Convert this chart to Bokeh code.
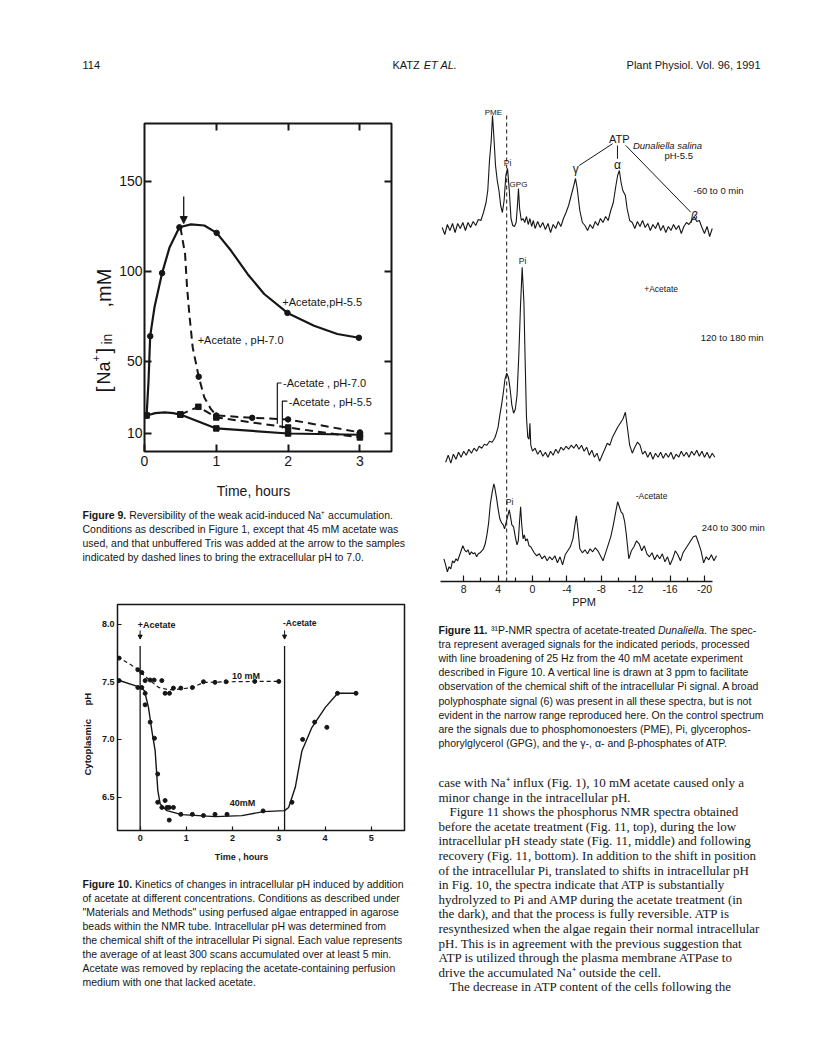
import numpy as np
from bokeh.plotting import figure
from bokeh.models import Range1d, LinearAxis, FixedTicker, Arrow, NormalHead, PrintfTickFormatter
from bokeh.layouts import column, row
from bokeh.embed import file_html
from bokeh.resources import INLINE
from bokeh.core.properties import value

INK = "#161616"
SANS = "Liberation Sans"
SERIF = "Liberation Serif"

# ====================== Figure 9 data ======================
F9_X_TICKS = [0, 1, 2, 3]
F9_Y_TICKS = [10, 50, 100, 150]
F9_AC55_T = [0.03, 0.08, 0.245, 0.486, 1.005, 1.991, 2.986]
F9_AC55_NA = [20, 64, 99, 124.4, 121.3, 76.9, 63.1]
F9_AC55_CURVE_T = [0.03, 0.056, 0.079, 0.139, 0.245, 0.347, 0.486, 0.648, 0.833, 1.005,
                   1.204, 1.435, 1.667, 1.991, 2.361, 2.685, 2.986]
F9_AC55_CURVE_NA = [20.5, 39, 64, 80, 99, 113, 124.4, 126, 125.4, 121.3,
                    111.5, 98.5, 87.4, 76.9, 69.8, 65.2, 63.1]
# +Acetate, pH 7.0 (Tris added at the arrow)
F9_AC70_T = [0.755, 1.0, 1.5, 2.0, 3.0]
F9_AC70_NA = [41.5, 20.0, 18.7, 17.8, 10.6]
F9_AC70_CURVE_T = [0.5, 0.565, 0.593, 0.625, 0.671, 0.755, 0.833, 0.926, 1.0, 1.5, 2.0, 3.0]
F9_AC70_CURVE_NA = [124.4, 109.6, 91, 76, 57.8, 41.5, 30, 23.5, 20.0, 18.7, 17.8, 10.6]
# -Acetate, pH 7.0
F9_NO70_T = [0.5, 0.75, 1.0, 2.0, 3.0]
F9_NO70_NA = [20.5, 24.8, 18.9, 13.3, 7.8]
# -Acetate, pH 5.5
F9_NO55_T = [0.03, 0.5, 1.0, 2.0, 3.0]
F9_NO55_NA = [20, 20.5, 12.8, 10.0, 9.3]
F9_NO55_CURVE_T = [0.03, 0.15, 0.28, 0.4, 0.5, 1.0, 2.0, 3.0]
F9_NO55_CURVE_NA = [20, 21.3, 21.7, 21.3, 20.5, 12.8, 10.0, 9.3]
F9_ARROW_T = 0.546

# ====================== Figure 10 data ======================
F10_X_TICKS = [0, 1, 2, 3, 4, 5]
F10_Y_TICKS = [6.5, 7.0, 7.5, 8.0]
F10_ACETATE_ON = 0.0
F10_ACETATE_OFF = 3.125
F10_10MM_T = [-0.455, -0.05, 0.036, 0.108, 0.217, 0.303, 0.469, 0.54, 0.635, 0.72, 0.88,
              1.13, 1.37, 1.62, 1.86, 2.48, 3.0]
F10_10MM_PH = [7.705, 7.604, 7.58, 7.51, 7.515, 7.515, 7.51, 7.40, 7.40, 7.445, 7.445,
               7.45, 7.50, 7.495, 7.50, 7.503, 7.503]
F10_10MM_CURVE_T = [-0.484, -0.05, 0.007, 0.2, 0.397, 0.6, 0.72, 0.9, 1.12, 1.37, 1.62, 2.0, 2.48, 3.0]
F10_10MM_CURVE_PH = [7.717, 7.61, 7.583, 7.515, 7.451, 7.432, 7.43, 7.44, 7.447, 7.494, 7.497, 7.50, 7.503, 7.503]
F10_40MM_T = [-0.455, -0.05, 0.036, 0.108, 0.108, 0.217, 0.31, 0.38, 0.38, 0.47, 0.54, 0.58,
              0.63, 0.63, 0.72, 0.88, 1.13, 1.37, 1.62, 1.88, 2.66,
              3.285, 3.516, 3.776, 4.04, 4.27, 4.67]
F10_40MM_PH = [7.51, 7.45, 7.45, 7.40, 7.30, 7.15, 7.01, 6.70, 6.455, 6.41, 6.47, 6.41,
               6.41, 6.30, 6.41, 6.35, 6.35, 6.34, 6.35, 6.35, 6.38,
               6.455, 7.0, 7.15, 7.105, 7.40, 7.40]
F10_40MM_CURVE_T = [-0.484, 0.007, 0.094, 0.18, 0.253, 0.325, 0.383, 0.433, 0.578, 0.9, 1.625,
                    2.2, 2.67, 3.126, 3.213, 3.357, 3.50, 3.718, 4.007, 4.274, 4.67]
F10_40MM_CURVE_PH = [7.515, 7.451, 7.422, 7.278, 7.076, 6.90, 6.556, 6.44, 6.382, 6.348, 6.33,
                     6.339, 6.374, 6.382, 6.41, 6.585, 6.90, 7.105, 7.278, 7.40, 7.40]

# ====================== Figure 11 data (ppm, signal height) ======================
F11_TICKS = [8, 4, 0, -4, -8, -12, -16, -20]
F11_MINOR = [6, 2, -2, -6, -10, -14, -18]
F11_PI_LINE_PPM = 3.0
S1 = [(10.5, 3), (10.2, -4), (9.9, 6), (9.6, 0), (9.3, 7), (9.0, -2), (8.7, 7), (8.4, 2), (8.1, 8), (7.8, 0),
      (7.5, 8), (7.2, 3), (6.9, 9), (6.6, 5), (6.3, 11), (6.0, 10), (5.7, 18), (5.4, 28), (5.2, 40), (5.0, 70),
      (4.8, 90), (4.65, 115), (4.5, 95), (4.3, 65), (4.1, 50), (3.9, 40), (3.7, 25), (3.5, 18), (3.3, 30), (3.1, 55),
      (2.9, 62), (2.7, 40), (2.5, 12), (2.3, 5), (2.1, 4), (1.9, 8), (1.75, 25), (1.63, 42), (1.5, 22), (1.3, 10),
      (1.1, 12), (0.9, 8), (0.7, 14), (0.5, 6), (0.3, 12), (0.1, 4), (-0.1, 10), (-0.3, 2), (-0.6, 9), (-0.9, 3),
      (-1.2, 8), (-1.5, 1), (-1.8, 7), (-2.1, -2), (-2.4, 6), (-2.7, 2), (-3.0, 9), (-3.3, 4), (-3.6, 12), (-3.9, 18),
      (-4.2, 25), (-4.5, 35), (-4.8, 45), (-5.0, 52), (-5.2, 42), (-5.5, 20), (-5.8, 8), (-6.1, 5), (-6.4, 0), (-6.7, 6),
      (-7.0, 2), (-7.3, 9), (-7.6, 5), (-7.9, 12), (-8.2, 8), (-8.5, 14), (-8.8, 10), (-9.1, 20), (-9.4, 28), (-9.7, 45),
      (-9.9, 55), (-10.1, 60), (-10.3, 48), (-10.5, 40), (-10.8, 35), (-11.0, 22), (-11.3, 10), (-11.6, 8), (-11.9, 2),
      (-12.2, 9), (-12.5, 4), (-12.8, 10), (-13.1, 3), (-13.4, 7), (-13.7, 0), (-14.0, 6), (-14.3, 2), (-14.6, 8),
      (-14.9, 0), (-15.2, 5), (-15.5, -2), (-15.8, 4), (-16.1, 0), (-16.4, 6), (-16.7, 1), (-17.0, 5), (-17.3, -3),
      (-17.6, 4), (-17.9, 8), (-18.2, 6), (-18.5, 10), (-18.8, 14), (-19.1, 9), (-19.4, 10), (-19.7, 3), (-20.0, -3),
      (-20.3, 4), (-20.6, -6), (-20.9, 2)]
S2 = [(10.1, -5), (9.8, 2), (9.5, -6), (9.2, 3), (8.9, -2), (8.6, 5), (8.3, 0), (8.0, 6), (7.7, 2), (7.4, 8),
      (7.1, 4), (6.8, 9), (6.5, 6), (6.2, 11), (5.9, 9), (5.6, 13), (5.3, 12), (5.0, 16), (4.7, 15), (4.4, 19),
      (4.2, 24), (4.0, 30), (3.8, 42), (3.6, 52), (3.4, 64), (3.2, 78), (3.0, 84), (2.8, 80), (2.6, 68), (2.4, 52),
      (2.2, 44), (2.0, 48), (1.8, 62), (1.6, 100), (1.4, 150), (1.2, 190), (1.0, 155), (0.85, 95), (0.7, 40),
      (0.55, 20), (0.4, 18), (0.3, 34), (0.2, 12), (0.0, 6), (-0.3, 9), (-0.6, 3), (-0.9, 7), (-1.2, 1), (-1.5, 5),
      (-1.8, 0), (-2.1, 6), (-2.4, 2), (-2.7, 8), (-3.0, 4), (-3.3, 10), (-3.6, 7), (-3.9, 11), (-4.2, 8), (-4.5, 12),
      (-4.8, 9), (-5.1, 13), (-5.4, 8), (-5.7, 12), (-6.0, 6), (-6.3, 10), (-6.6, 2), (-6.9, 7), (-7.2, 0), (-7.5, 4),
      (-7.8, -4), (-8.1, 2), (-8.4, 8), (-8.7, 14), (-9.0, 12), (-9.3, 20), (-9.6, 25), (-9.9, 30), (-10.2, 34),
      (-10.5, 38), (-10.8, 45), (-11.0, 32), (-11.3, 12), (-11.6, 4), (-11.9, 10), (-12.2, 15), (-12.5, 12), (-12.8, 3),
      (-13.1, 6), (-13.4, 0), (-13.7, 5), (-14.0, -2), (-14.3, 4), (-14.6, 0), (-14.9, 5), (-15.2, -1), (-15.5, 4),
      (-15.8, 0), (-16.1, 5), (-16.4, -2), (-16.7, 3), (-17.0, 0), (-17.3, 6), (-17.6, 1), (-17.9, 5), (-18.2, 0),
      (-18.5, 6), (-18.8, 2), (-19.1, 7), (-19.4, 1), (-19.7, 6), (-20.0, 0), (-20.3, 5), (-20.6, -1), (-20.9, 4),
      (-21.2, 0)]
S3 = [(10.3, 0), (10.1, -6), (9.9, -13), (9.7, -8), (9.5, -10), (9.3, -2), (9.1, -4), (8.9, 0), (8.7, -2), (8.5, 3),
      (8.3, 8), (8.1, 13), (7.9, 9), (7.7, 7), (7.5, 9), (7.3, 4), (7.1, 7), (6.9, 5), (6.7, 6), (6.5, 2), (6.3, 5),
      (6.1, 6), (5.9, 8), (5.7, 10), (5.5, 15), (5.3, 24), (5.1, 36), (4.9, 55), (4.7, 66), (4.5, 75), (4.4, 72),
      (4.2, 62), (4.0, 50), (3.8, 40), (3.6, 36), (3.4, 34), (3.25, 30), (3.1, 35), (2.9, 42), (2.7, 49), (2.55, 42),
      (2.4, 34), (2.2, 32), (2.0, 22), (1.8, 14), (1.65, 18), (1.5, 38), (1.38, 52), (1.25, 34), (1.1, 20), (0.95, 24),
      (0.8, 18), (0.6, 20), (0.4, 13), (0.2, 12), (0.0, 9), (-0.2, 6), (-0.5, 3), (-0.8, 5), (-1.1, 0), (-1.4, 3),
      (-1.7, -2), (-2.0, 2), (-2.3, -1), (-2.6, 3), (-2.9, -4), (-3.2, 2), (-3.5, -6), (-3.8, 4), (-4.1, 8), (-4.4, 12),
      (-4.7, 20), (-4.9, 32), (-5.1, 43), (-5.3, 28), (-5.5, 10), (-5.8, 6), (-6.1, 9), (-6.4, 5), (-6.7, 10), (-7.0, 7),
      (-7.3, 11), (-7.6, 8), (-7.9, 3), (-8.2, -2), (-8.5, 6), (-8.8, 14), (-9.1, 22), (-9.4, 34), (-9.7, 48),
      (-9.9, 57), (-10.1, 52), (-10.3, 47), (-10.5, 45), (-10.7, 38), (-10.9, 25), (-11.2, 0), (-11.5, 8), (-11.8, 12),
      (-12.1, 18), (-12.4, 15), (-12.7, 8), (-13.0, 13), (-13.3, 5), (-13.6, 2), (-13.9, 6), (-14.2, -1), (-14.5, 4),
      (-14.8, 0), (-15.1, 5), (-15.4, -3), (-15.7, 2), (-16.0, -6), (-16.3, 0), (-16.6, 8), (-16.9, 4), (-17.2, -2),
      (-17.5, 6), (-17.8, 10), (-18.1, 14), (-18.4, 18), (-18.7, 22), (-19.0, 23), (-19.3, 16), (-19.6, 8), (-19.9, -4),
      (-20.2, 2), (-20.5, -1), (-20.8, 4), (-21.1, -2), (-21.4, 3)]
SPECTRA = [S1, S2, S3]
SPECTRA_BASE = [351, 124.3, 22.7]

# ====================== texts ======================
HEADER_LEFT = "114"
HEADER_MID = [("KATZ ", "normal"), ("ET AL.", "italic")]
HEADER_RIGHT = "Plant Physiol. Vol. 96, 1991"

CAP9 = [
    [("Figure 9.", "bold"), (" Reversibility of the weak acid-induced Na\u207a accumulation.", "normal")],
    [("Conditions as described in Figure 1, except that 45 mM acetate was", "normal")],
    [("used, and that unbuffered Tris was added at the arrow to the samples", "normal")],
    [("indicated by dashed lines to bring the extracellular pH to 7.0.", "normal")],
]
CAP10 = [
    [("Figure 10.", "bold"), (" Kinetics of changes in intracellular pH induced by addition", "normal")],
    [("of acetate at different concentrations. Conditions as described under", "normal")],
    [('"Materials and Methods" using perfused algae entrapped in agarose', "normal")],
    [("beads within the NMR tube. Intracellular pH was determined from", "normal")],
    [("the chemical shift of the intracellular Pi signal. Each value represents", "normal")],
    [("the average of at least 300 scans accumulated over at least 5 min.", "normal")],
    [("Acetate was removed by replacing the acetate-containing perfusion", "normal")],
    [("medium with one that lacked acetate.", "normal")],
]
CAP11 = [
    [("Figure 11.", "bold"), (" \u00b3\u00b9P-NMR spectra of acetate-treated ", "normal"),
     ("Dunaliella", "italic"), (". The spec-", "normal")],
    [("tra represent averaged signals for the indicated periods, processed", "normal")],
    [("with line broadening of 25 Hz from the 40 mM acetate experiment", "normal")],
    [("described in Figure 10. A vertical line is drawn at 3 ppm to facilitate", "normal")],
    [("observation of the chemical shift of the intracellular Pi signal. A broad", "normal")],
    [("polyphosphate signal (6) was present in all these spectra, but is not", "normal")],
    [("evident in the narrow range reproduced here. On the control spectrum", "normal")],
    [("are the signals due to phosphomonoesters (PME), Pi, glycerophos-", "normal")],
    [("phorylglycerol (GPG), and the \u03b3-, \u03b1- and \u03b2-phosphates of ATP.", "normal")],
]
BODY = [
    "case with Na\u207a influx (Fig. 1), 10 mM acetate caused only a",
    "minor change in the intracellular pH.",
    "Figure 11 shows the phosphorus NMR spectra obtained",
    "before the acetate treatment (Fig. 11, top), during the low",
    "intracellular pH steady state (Fig. 11, middle) and following",
    "recovery (Fig. 11, bottom). In addition to the shift in position",
    "of the intracellular Pi, translated to shifts in intracellular pH",
    "in Fig. 10, the spectra indicate that ATP is substantially",
    "hydrolyzed to Pi and AMP during the acetate treatment (in",
    "the dark), and that the process is fully reversible. ATP is",
    "resynthesized when the algae regain their normal intracellular",
    "pH. This is in agreement with the previous suggestion that",
    "ATP is utilized through the plasma membrane ATPase to",
    "drive the accumulated Na\u207a outside the cell.",
    "The decrease in ATP content of the cells following the",
]
BODY_INDENT_LINES = [2, 14]

# ---------- Helvetica / Arial advance widths (1/1000 em) ----------
_CH = " !\"#$%&'()*+,-./0123456789:;<=>?@ABCDEFGHIJKLMNOPQRSTUVWXYZ[\\]^_`abcdefghijklmnopqrstuvwxyz"
_HW = [278, 278, 355, 556, 556, 889, 667, 191, 333, 333, 389, 584, 278, 333, 278, 278] + [556] * 10 + \
      [278, 278, 584, 584, 584, 556, 1015] + \
      [667, 667, 722, 722, 667, 611, 778, 722, 278, 500, 667, 556, 833, 722, 778, 667, 778, 722, 667, 611,
       722, 667, 944, 667, 667, 611] + [278, 278, 278, 469, 556, 333] + \
      [556, 556, 500, 556, 556, 278, 556, 556, 222, 222, 500, 222, 833, 556, 556, 556, 556, 333, 500, 278,
       556, 500, 722, 500, 500, 500]
HELV = dict(zip(_CH, _HW))
HELV.update({"\u00b3": 333, "\u00b9": 333, "\u207a": 400})
HELVB = dict(HELV)
HELVB.update({"F": 611, "i": 278, "g": 611, "u": 611, "r": 389, "e": 556, " ": 278, ".": 278})


def tw(s, table, size):
    return sum(table.get(c, 556) for c in s) / 1000.0 * size


def base_fig(**kw):
    return figure(toolbar_location=None, output_backend="svg", background_fill_color="white",
                  border_fill_color="white", **kw)


def page_fig(x0, y0, w, h):
    """A blank figure whose data units are page pixels (y downward)."""
    return base_fig(width=w, height=h, x_range=Range1d(x0, x0 + w), y_range=Range1d(y0 + h, y0),
                    x_axis_type=None, y_axis_type=None, min_border=0, outline_line_color=None)


def put(p, x, y, s, size, font=SANS, style="normal", align="left", angle=0.0):
    p.text(x=[x], y=[y], text=[s], angle=angle, text_font=value(font), text_font_size=f"{size}px",
           text_font_style=style, text_align=align, text_baseline="middle", text_color=INK)


def draw_block(p, x0, y0, dy, lines, size, font=SANS):
    for i, segs in enumerate(lines):
        x = x0
        y = y0 + i * dy
        for s, sty in segs:
            tb = HELVB if sty == "bold" else HELV
            lead = len(s) - len(s.lstrip(" "))
            trail = len(s) - len(s.rstrip(" "))
            core = s.strip(" ")
            x += lead * tb[" "] / 1000.0 * size
            if core:
                put(p, x, y, core, size, font=font, style=sty)
            x += tw(core, tb, size) + trail * tb[" "] / 1000.0 * size


def style_axis(ax, ticks, tick_in, size, labels=True, bold=False, standoff=3, lw=1.5):
    ax.ticker = FixedTicker(ticks=ticks)
    ax.axis_line_color = None
    ax.major_tick_in = tick_in
    ax.major_tick_out = 0
    ax.major_tick_line_color = INK
    ax.major_tick_line_width = lw
    ax.minor_tick_line_color = None
    ax.major_label_text_font = SANS
    ax.major_label_text_font_size = f"{size}px"
    ax.major_label_text_color = INK if labels else None
    ax.major_label_standoff = standoff
    if bold:
        ax.major_label_text_font_style = "bold"


CAP_SIZE = 10.5
BODY_SIZE = 13.0

# ====================== header ======================
hdr = page_fig(0, 0, 816, 78)
put(hdr, 82, 64, HEADER_LEFT, 11)
xm = 392
for s, sty in HEADER_MID:
    put(hdr, xm, 64, s.strip(), 11, style=sty)
    xm += tw(s, HELV, 11)
put(hdr, 760, 64, HEADER_RIGHT, 11, align="right")

# ====================== Figure 9 ======================
# y-axis title panel (page px: x 0..116, frame rows = page y 123..451, y stored negated)
y9 = base_fig(frame_width=116, frame_height=328, min_border_left=0, min_border_right=0,
              min_border_top=45, min_border_bottom=25, x_range=Range1d(0, 116),
              y_range=Range1d(-451, -123), x_axis_type=None, y_axis_type=None, outline_line_color=None)
for s, size, xx, ystart in [("[", 21, 103, 392), ("Na", 18, 103, 384), ("+", 11, 95, 361),
                            ("]", 21, 103, 353), ("in", 14, 106, 344), (",mM", 20, 103, 307)]:
    put(y9, xx, -ystart, s, size, angle=np.pi / 2)

p9 = base_fig(frame_width=247, frame_height=328, min_border_left=26, min_border_right=27,
              min_border_top=45, min_border_bottom=25, x_range=Range1d(0, 3.44), y_range=Range1d(0, 182),
              outline_line_color=INK, outline_line_width=2)
p9.grid.visible = False
style_axis(p9.xaxis[0], F9_X_TICKS, 7, 14, standoff=4, lw=2)
style_axis(p9.yaxis[0], F9_Y_TICKS, 7, 14, standoff=2, lw=2)
ax_r = LinearAxis()
style_axis(ax_r, F9_Y_TICKS, 7, 14, labels=False, lw=2)
p9.add_layout(ax_r, "right")
ax_t = LinearAxis()
style_axis(ax_t, F9_X_TICKS[1:], 7, 14, labels=False, lw=2)
p9.add_layout(ax_t, "above")

p9.line(F9_AC55_CURVE_T, F9_AC55_CURVE_NA, line_width=2.2, color=INK)
p9.scatter(F9_AC55_T, F9_AC55_NA, marker="circle", size=5.5, color=INK)
p9.line(F9_AC70_CURVE_T, F9_AC70_CURVE_NA, line_width=2, color=INK, line_dash="8 5")
p9.scatter(F9_AC70_T, F9_AC70_NA, marker="circle", size=5.5, color=INK)
p9.line(F9_NO70_T, F9_NO70_NA, line_width=2, color=INK, line_dash="8 5")
p9.scatter(F9_NO70_T, F9_NO70_NA, marker="square", size=5.5, color=INK)
p9.line(F9_NO55_CURVE_T, F9_NO55_CURVE_NA, line_width=2.2, color=INK)
p9.scatter(F9_NO55_T, F9_NO55_NA, marker="square", size=5.5, color=INK)
p9.add_layout(Arrow(end=NormalHead(size=7, fill_color=INK, line_color=INK, line_width=1),
                    x_start=F9_ARROW_T, y_start=141.5, x_end=F9_ARROW_T, y_end=126.5,
                    line_color=INK, line_width=1.3))
put(p9, 1.92, 82.8, "+Acetate,pH-5.5", 11)
put(p9, 0.74, 61.7, "+Acetate , pH-7.0", 11)
put(p9, 1.93, 38.0, "-Acetate , pH-7.0", 11)
put(p9, 2.01, 27.6, "-Acetate , pH-5.5", 11)
p9.line([1.85, 1.85, 1.91], [15.4, 38.0, 38.0], color=INK, line_width=1.2)
p9.line([1.92, 1.92, 1.99], [12.8, 28.0, 28.0], color=INK, line_width=1.2)

cap9 = page_fig(0, 476, 416, 94)
put(cap9, 253, 490, "Time, hours", 14, align="center")
draw_block(cap9, 82, 514, 14.0, CAP9, CAP_SIZE)

# ====================== Figure 10 ======================
y10 = base_fig(frame_width=98, frame_height=226, min_border_left=0, min_border_right=0,
               min_border_top=34, min_border_bottom=18, x_range=Range1d(0, 98),
               y_range=Range1d(-830, -604), x_axis_type=None, y_axis_type=None, outline_line_color=None)
put(y10, 87, -775, "Cytoplasmic", 9.5, style="bold", angle=np.pi / 2)
put(y10, 87, -705, "pH", 9.5, style="bold", angle=np.pi / 2)

p10 = base_fig(frame_width=287, frame_height=226, min_border_left=18, min_border_right=13,
               min_border_top=34, min_border_bottom=18, x_range=Range1d(-0.49, 5.72),
               y_range=Range1d(6.21, 8.17), outline_line_color=INK, outline_line_width=1.5)
p10.grid.visible = False
style_axis(p10.xaxis[0], F10_X_TICKS, 4, 9, bold=True, standoff=4, lw=1.2)
style_axis(p10.yaxis[0], F10_Y_TICKS, 4, 9, bold=True, standoff=3, lw=1.2)
p10.yaxis[0].formatter = PrintfTickFormatter(format="%.1f")
p10.segment(x0=[F10_ACETATE_ON, F10_ACETATE_OFF], y0=[7.81, 7.81],
            x1=[F10_ACETATE_ON, F10_ACETATE_OFF], y1=[6.21, 6.21], color=INK, line_width=1.3)
p10.line(F10_10MM_CURVE_T, F10_10MM_CURVE_PH, line_width=1.2, color=INK, line_dash="4 3")
p10.scatter(F10_10MM_T, F10_10MM_PH, marker="circle", size=4, color=INK)
p10.line(F10_40MM_CURVE_T, F10_40MM_CURVE_PH, line_width=1.4, color=INK)
p10.scatter(F10_40MM_T, F10_40MM_PH, marker="circle", size=4, color=INK)
for tx in (F10_ACETATE_ON, F10_ACETATE_OFF):
    p10.add_layout(Arrow(end=NormalHead(size=4, fill_color=INK, line_color=INK, line_width=1),
                         x_start=tx, y_start=7.945, x_end=tx, y_end=7.87, line_color=INK, line_width=1))
put(p10, -0.05, 7.994, "+Acetate", 9, style="bold")
put(p10, 3.09, 8.01, "-Acetate", 8.5, style="bold")
put(p10, 1.985, 7.55, "10 mM", 9, style="bold")
put(p10, 1.94, 6.445, "40mM", 9, style="bold")

cap10 = page_fig(0, 848, 416, 202)
put(cap10, 241, 856, "Time , hours", 9, style="bold", align="center")
draw_block(cap10, 82, 883, 14.0, CAP10, CAP_SIZE)

# ====================== Figure 11 ======================
p11 = base_fig(frame_width=334, frame_height=486, min_border_left=20, min_border_right=46,
               min_border_top=17, min_border_bottom=31, x_range=Range1d(10.93, -27.907),
               y_range=Range1d(0, 486), y_axis_type=None, outline_line_color=None)
p11.grid.visible = False
ax = p11.xaxis[0]
ax.ticker = FixedTicker(ticks=F11_TICKS, minor_ticks=F11_MINOR)
ax.bounds = (-20.9, 10.66)
ax.axis_line_color = INK
ax.axis_line_width = 1.3
ax.major_tick_in = 6
ax.major_tick_out = 0
ax.minor_tick_in = 4
ax.minor_tick_out = 0
ax.major_tick_line_color = INK
ax.minor_tick_line_color = INK
ax.major_tick_line_width = 1.2
ax.minor_tick_line_width = 1.2
ax.major_label_text_font = SANS
ax.major_label_text_font_size = "10.5px"
ax.major_label_text_color = INK
ax.major_label_standoff = 3
ax.major_label_overrides = {t: str(t) for t in F11_TICKS}
ax.axis_label = "PPM" + "\u00a0" * 14
ax.axis_label_text_font = SANS
ax.axis_label_text_font_size = "11px"
ax.axis_label_text_font_style = "normal"
ax.axis_label_text_color = INK
ax.axis_label_standoff = 0

for spec, base in zip(SPECTRA, SPECTRA_BASE):
    ppm = [a for a, b in spec]
    hgt = [b + base for a, b in spec]
    p11.line(ppm, hgt, color=INK, line_width=1.1)
p11.line([F11_PI_LINE_PPM, F11_PI_LINE_PPM], [0, 466], color=INK, line_width=1, line_dash="4 3")
put(p11, 4.54, 469, "PME", 8, align="center")
put(p11, 2.9, 419, "Pi", 8.5, align="center")
put(p11, 1.63, 397, "GPG", 8, align="center")
put(p11, -5.03, 413, "\u03b3", 12, align="center")
put(p11, -10.08, 443, "ATP", 11, align="center")
put(p11, -9.88, 417, "\u03b1", 12, align="center")
put(p11, -18.8, 366, "\u03b2", 12, align="center", style="italic")
put(p11, -15.7, 436, "Dunaliella salina", 9.5, align="center", style="italic")
put(p11, -17.0, 426, "pH-5.5", 9.5, align="center")
put(p11, -18.72, 391, "-60 to 0 min", 9.5)
put(p11, 1.16, 321, "Pi", 8.5, align="center")
put(p11, -12.99, 292.7, "+Acetate", 8.5)
put(p11, -19.57, 244.3, "120 to 180 min", 9.5)
put(p11, 2.67, 79.3, "Pi", 8.5, align="center")
put(p11, -12.0, 86, "-Acetate", 8.5)
put(p11, -19.69, 54.3, "240 to 300 min", 9.5)
p11.segment(x0=[-9.3, -9.88, -10.85], y0=[437.7, 436, 436], x1=[-5.43, -9.88, -18.4], y1=[416, 422.7, 369.3],
            color=INK, line_width=1)

cap11 = page_fig(416, 612, 400, 154)
draw_block(cap11, 436, 629, 14.2, CAP11, CAP_SIZE)

body = page_fig(416, 766, 400, 284)
for i, line in enumerate(BODY):
    indent = 11 if i in BODY_INDENT_LINES else 0
    put(body, 436 + indent, 782 + i * 14.6, line, BODY_SIZE, font=SERIF)

left = column(row(y9, p9), row(cap9), row(y10, p10), row(cap10))
right = column(row(p11), row(cap11), row(body))
page = column(row(hdr), row(left, right))

open("out.html", "w").write(file_html(page, INLINE))
